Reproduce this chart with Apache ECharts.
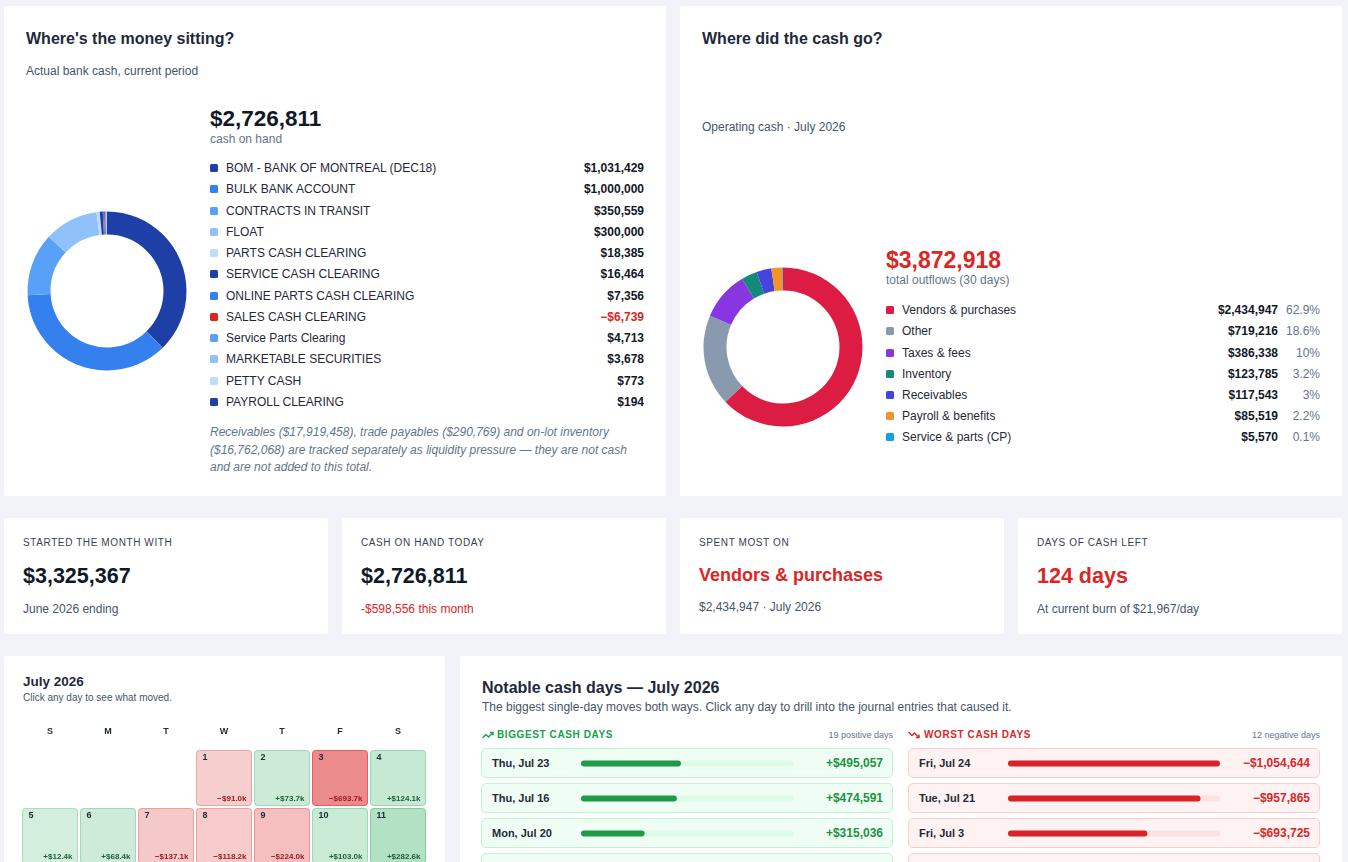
<!DOCTYPE html>
<html>
<head>
<meta charset="utf-8">
<title>Cash dashboard</title>
<script src="https://cdn.jsdelivr.net/npm/echarts@6/dist/echarts.min.js"></script>
<style>
  html, body { margin: 0; padding: 0; width: 1348px; height: 862px; overflow: hidden; background: #f1f3f8;
    font-family: Arial, "Liberation Sans", Helvetica, sans-serif; color: #1e293b; }
  .card { position: absolute; background: #fff; border-radius: 2px; }
  .t { position: absolute; white-space: nowrap; line-height: 20px; height: 20px; }
  .h { font-size: 16px; font-weight: bold; color: #1e293b; }
  .sub { font-size: 12px; color: #475569; }
  .big { font-size: 22.5px; font-weight: bold; color: #111827; }
  .kl { font-size: 10px; color: #374151; letter-spacing: 0.6px; }
  .kv { font-size: 21.5px; font-weight: bold; color: #111827; }
  .red { color: #dc2626; }
  .chart { position: absolute; }
  .leg { position: absolute; }
  .leg .row { display: flex; align-items: center; font-size: 12px; color: #1f2937; white-space: nowrap; }
  .leg .sw { width: 8px; height: 8px; border-radius: 1.5px; margin-right: 8px; flex: none; }
  .leg .nm { flex: 1; }
  .leg .val { font-weight: bold; color: #111827; }
  .leg .pct { width: 42px; text-align: right; color: #64748b; }
  .note { position: absolute; font-size: 12px; font-style: italic; color: #64748b; line-height: 17.5px; white-space: nowrap; }
  .sec { font-size: 10px; font-weight: bold; letter-spacing: 0.6px; }
  .cnt { font-size: 9px; color: #64748b; text-align: right; }
  .box { position: absolute; box-sizing: border-box; height: 30px; border: 1px solid; border-radius: 5px; }
  .box .d { position: absolute; left: 10px; top: 0; line-height: 28px; font-size: 11px; font-weight: bold; color: #1f2937; }
  .box .v { position: absolute; right: 9px; top: 0; line-height: 28px; font-size: 12px; font-weight: bold; }
</style>
</head>
<body>

<!-- top left: where the money sits -->
<div class="card" style="left:4px;top:6px;width:662px;height:490px;"></div>
<div class="t h" style="left:26px;top:29px;">Where's the money sitting?</div>
<div class="t sub" style="left:26px;top:61px;">Actual bank cash, current period</div>
<div id="cashPie" class="chart" style="left:20px;top:204px;width:174px;height:174px;"></div>
<div class="t big" style="left:210px;top:109px;">$2,726,811</div>
<div class="t sub" style="left:210px;top:129px;color:#64748b;">cash on hand</div>
<div id="cashLegend" class="leg" style="left:210px;top:157.4px;width:434px;"></div>
<div class="note" style="left:210px;top:424px;">Receivables ($17,919,458), trade payables ($290,769) and on-lot inventory<br>($16,762,068) are tracked separately as liquidity pressure — they are not cash<br>and are not added to this total.</div>

<!-- top right: where did the cash go -->
<div class="card" style="left:680px;top:6px;width:662px;height:490px;"></div>
<div class="t h" style="left:702px;top:29px;">Where did the cash go?</div>
<div class="t sub" style="left:702px;top:117px;">Operating cash · July 2026</div>
<div id="outPie" class="chart" style="left:696px;top:260px;width:174px;height:174px;"></div>
<div class="t big red" style="left:886px;top:250px;font-size:23px;">$3,872,918</div>
<div class="t sub" style="left:886px;top:270px;color:#64748b;">total outflows (30 days)</div>
<div id="outLegend" class="leg" style="left:886px;top:299.6px;width:434px;"></div>

<!-- KPI cards -->
<div class="card" style="left:4px;top:518px;width:324px;height:116px;"></div>
<div class="t kl" style="left:23px;top:533px;">STARTED THE MONTH WITH</div>
<div class="t kv" style="left:23px;top:566px;">$3,325,367</div>
<div class="t sub" style="left:23px;top:599px;">June 2026 ending</div>

<div class="card" style="left:342px;top:518px;width:324px;height:116px;"></div>
<div class="t kl" style="left:361px;top:533px;">CASH ON HAND TODAY</div>
<div class="t kv" style="left:361px;top:566px;">$2,726,811</div>
<div class="t sub red" style="left:361px;top:599px;">-$598,556 this month</div>

<div class="card" style="left:680px;top:518px;width:324px;height:116px;"></div>
<div class="t kl" style="left:699px;top:533px;">SPENT MOST ON</div>
<div class="t kv red" style="left:699px;top:565px;font-size:18px;">Vendors &amp; purchases</div>
<div class="t sub" style="left:699px;top:597px;">$2,434,947 · July 2026</div>

<div class="card" style="left:1018px;top:518px;width:324px;height:116px;"></div>
<div class="t kl" style="left:1037px;top:533px;">DAYS OF CASH LEFT</div>
<div class="t kv red" style="left:1037px;top:566px;">124 days</div>
<div class="t sub" style="left:1037px;top:599px;">At current burn of $21,967/day</div>

<!-- calendar -->
<div class="card" style="left:4px;top:656px;width:441px;height:230px;"></div>
<div class="t" style="left:23px;top:672px;font-size:13.5px;font-weight:bold;color:#1e293b;">July 2026</div>
<div class="t" style="left:23px;top:688px;font-size:10px;color:#475569;">Click any day to see what moved.</div>
<div id="calendar" class="chart" style="left:21px;top:721px;width:406px;height:320px;"></div>

<!-- notable days -->
<div class="card" style="left:460px;top:656px;width:882px;height:230px;"></div>
<div class="t h" style="left:482px;top:678px;">Notable cash days — July 2026</div>
<div class="t sub" style="left:482px;top:697px;">The biggest single-day moves both ways. Click any day to drill into the journal entries that caused it.</div>

<svg style="position:absolute;left:482px;top:731px;" width="12" height="8" viewBox="0 0 12 8">
  <polyline points="0.5,7 4,3.5 6.5,6 11,1.5" fill="none" stroke="#16a34a" stroke-width="1.4"/>
  <polyline points="8,1.5 11,1.5 11,4.5" fill="none" stroke="#16a34a" stroke-width="1.4"/>
</svg>
<div class="t sec" style="left:497px;top:725px;color:#16a34a;">BIGGEST CASH DAYS</div>
<div class="t cnt" style="left:773px;top:725px;width:120px;">19 positive days</div>

<svg style="position:absolute;left:908px;top:731px;" width="12" height="8" viewBox="0 0 12 8">
  <polyline points="0.5,1 4,4.5 6.5,2 11,6.5" fill="none" stroke="#dc2626" stroke-width="1.4"/>
  <polyline points="8,6.5 11,6.5 11,3.5" fill="none" stroke="#dc2626" stroke-width="1.4"/>
</svg>
<div class="t sec" style="left:924px;top:725px;color:#dc2626;">WORST CASH DAYS</div>
<div class="t cnt" style="left:1200px;top:725px;width:120px;">12 negative days</div>

<div id="bestRows"></div>
<div id="worstRows"></div>
<div id="bestBars" class="chart" style="left:581px;top:745.5px;width:213px;height:140px;"></div>
<div id="worstBars" class="chart" style="left:1008px;top:745.5px;width:212px;height:140px;"></div>

<script>
// ---- data ----
const cashAccounts = ['BOM - BANK OF MONTREAL (DEC18)', 'BULK BANK ACCOUNT', 'CONTRACTS IN TRANSIT', 'FLOAT',
  'PARTS CASH CLEARING', 'SERVICE CASH CLEARING', 'ONLINE PARTS CASH CLEARING', 'SALES CASH CLEARING',
  'Service Parts Clearing', 'MARKETABLE SECURITIES', 'PETTY CASH', 'PAYROLL CLEARING'];
const cashBalances = [1031429, 1000000, 350559, 300000, 18385, 16464, 7356, -6739, 4713, 3678, 773, 194];
const bluePalette = ['#1e3fa6', '#3380ee', '#58a1f6', '#90c1fa', '#bfdbfe'];

const outflowCategories = ['Vendors & purchases', 'Other', 'Taxes & fees', 'Inventory', 'Receivables',
  'Payroll & benefits', 'Service & parts (CP)'];
const outflowAmounts = [2434947, 719216, 386338, 123785, 117543, 85519, 5570];
const outflowColors = ['#dc1c42', '#8a9aae', '#8836e2', '#13897a', '#4545de', '#f4922b', '#149fe0'];

const weekdays = ['Sun', 'Mon', 'Tue', 'Wed', 'Thu', 'Fri', 'Sat'];
const calDays = [1, 2, 3, 4, 5, 6, 7, 8, 9, 10, 11, 16, 20, 21, 23, 24];
const calNet = [-91000, 73700, -693700, 124100, 12400, 68400, -137100, -118200, -224000, 103000, 282600,
  474591, 315036, -957865, 495057, -1054644];

const bestDays = ['Thu, Jul 23', 'Thu, Jul 16', 'Mon, Jul 20', 'Sat, Jul 11'];
const bestAmounts = [495057, 474591, 315036, 282600];
const worstDays = ['Fri, Jul 24', 'Tue, Jul 21', 'Fri, Jul 3', 'Thu, Jul 9'];
const worstAmounts = [1054644, 957865, 693725, 224000];

const money = n => '$' + Math.abs(n).toLocaleString('en-US');

// blue shades cycle over the positive accounts, negatives are red
let shade = 0;
const cashColors = cashBalances.map(v => v < 0 ? '#dc2626' : bluePalette[(shade++) % 5]);

// ---- donuts ----
function donut(el, data) {
  const chart = echarts.init(document.getElementById(el));
  chart.setOption({
    animation: false,
    series: [{
      type: 'pie',
      radius: [56.5, 79.5],
      center: ['50%', '50%'],
      startAngle: 90,
      silent: true,
      label: { show: false },
      labelLine: { show: false },
      data: data
    }]
  });
}

donut('cashPie', cashBalances.map((v, i) => ({
  name: cashAccounts[i],
  value: Math.abs(v),
  itemStyle: { color: cashColors[i] }
})));

donut('outPie', outflowAmounts.map((v, i) => ({
  name: outflowCategories[i],
  value: v,
  itemStyle: { color: outflowColors[i] }
})));

// legends
let html = '';
cashBalances.forEach((v, i) => {
  html += '<div class="row" style="height:21.27px">' +
    '<span class="sw" style="background:' + cashColors[i] + '"></span>' +
    '<span class="nm">' + cashAccounts[i] + '</span>' +
    '<span class="val"' + (v < 0 ? ' style="color:#dc2626"' : '') + '>' + (v < 0 ? '\u2212' : '') + money(v) + '</span></div>';
});
document.getElementById('cashLegend').innerHTML = html;

const outTotal = outflowAmounts.reduce((a, b) => a + b, 0);
html = '';
outflowAmounts.forEach((v, i) => {
  let p = (v / outTotal * 100).toFixed(1).replace(/\.0$/, '');
  html += '<div class="row" style="height:21.2px">' +
    '<span class="sw" style="background:' + outflowColors[i] + '"></span>' +
    '<span class="nm">' + outflowCategories[i].replace('&', '&amp;') + '</span>' +
    '<span class="val">' + money(v) + '</span>' +
    '<span class="pct">' + p + '%</span></div>';
});
document.getElementById('outLegend').innerHTML = html;

// ---- calendar ----
const maxMove = Math.max(...calNet.map(Math.abs));
const firstDow = new Date(2026, 6, 1).getDay();
const calData = calDays.map((d, i) => {
  const dow = new Date(2026, 6, d).getDay();
  const week = Math.floor((d - 1 + firstDow) / 7);
  return [dow, week, d, calNet[i]];
});

function tint(v, extra) {
  const a = 0.18 + 0.54 * Math.abs(v) / maxMove + extra;
  return v >= 0 ? 'rgba(22,163,74,' + a + ')' : 'rgba(220,38,38,' + a + ')';
}

const cal = echarts.init(document.getElementById('calendar'));
cal.setOption({
  animation: false,
  grid: { left: 0, right: 0, top: 28, height: 290 },
  xAxis: {
    type: 'category', position: 'top', data: weekdays,
    axisLine: { show: false }, axisTick: { show: false },
    axisLabel: { margin: 13, fontSize: 9, fontWeight: 'bold', color: '#1f2937', formatter: s => s[0] }
  },
  yAxis: { type: 'category', inverse: true, data: ['w1', 'w2', 'w3', 'w4', 'w5'], show: false },
  series: [{
    type: 'custom',
    silent: true,
    data: calData,
    encode: { x: 0, y: 1 },
    renderItem: function (params, api) {
      const p = api.coord([api.value(0), api.value(1)]);
      const s = api.size([1, 1]);
      const w = s[0] - 3, h = s[1] - 3;
      const x = p[0] - w / 2, y = p[1] - h / 2;
      const v = api.value(3);
      const label = (v >= 0 ? '+' : '\u2212') + '$' + (Math.abs(v) / 1000).toFixed(1) + 'k';
      return {
        type: 'group',
        children: [
          { type: 'rect', shape: { x: x, y: y, width: w, height: h, r: 3 },
            style: { fill: tint(v, 0), stroke: tint(v, 0.12), lineWidth: 1 } },
          { type: 'text', x: x + 6, y: y + 7,
            style: { text: String(api.value(2)), fill: '#1f2937', fontSize: 9, fontWeight: 'bold',
              fontFamily: 'Arial', align: 'left', verticalAlign: 'middle' } },
          { type: 'text', x: x + w - 5, y: y + h - 7,
            style: { text: label, fill: v >= 0 ? '#1f5f34' : '#9b1c22', fontSize: 8, fontWeight: 'bold',
              fontFamily: 'Arial', align: 'right', verticalAlign: 'middle' } }
        ]
      };
    }
  }]
});

// ---- notable days ----
const barMax = Math.max(...bestAmounts, ...worstAmounts);

function rows(el, days, amounts, left, pos) {
  let out = '';
  days.forEach((d, i) => {
    out += '<div class="box" style="left:' + left + 'px;top:' + (748 + i * 35) + 'px;width:412px;' +
      (pos ? 'background:#f0fdf4;border-color:#bbf7d0;' : 'background:#fef2f2;border-color:#fecaca;') + '">' +
      '<span class="d">' + d + '</span>' +
      '<span class="v" style="color:' + (pos ? '#1a9441' : '#dc2626') + '">' +
      (pos ? '+' : '\u2212') + money(amounts[i]) + '</span></div>';
  });
  document.getElementById(el).innerHTML = out;
}
rows('bestRows', bestDays, bestAmounts, 481, true);
rows('worstRows', worstDays, worstAmounts, 908, false);

function bars(el, days, amounts, color, track) {
  const chart = echarts.init(document.getElementById(el));
  chart.setOption({
    animation: false,
    grid: { left: 0, right: 0, top: 0, bottom: 0 },
    xAxis: { type: 'value', min: 0, max: barMax, show: false },
    yAxis: { type: 'category', inverse: true, data: days, show: false },
    series: [{
      type: 'bar',
      silent: true,
      barWidth: 6,
      data: amounts,
      itemStyle: { color: color, borderRadius: 3 },
      showBackground: true,
      backgroundStyle: { color: track, borderRadius: 3 }
    }]
  });
}
bars('bestBars', bestDays, bestAmounts, '#1f9a48', '#dcfce7');
bars('worstBars', worstDays, worstAmounts, '#d9232a', '#fde2e2');
</script>
</body>
</html>
